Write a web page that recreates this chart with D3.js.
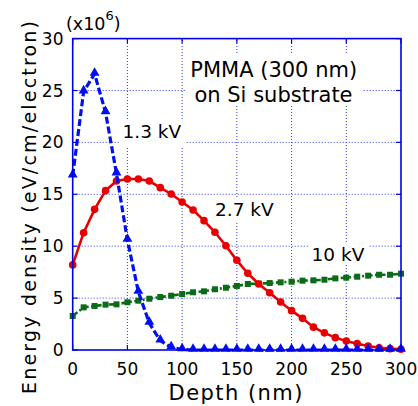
<!DOCTYPE html>
<html>
<head>
<meta charset="utf-8">
<script src="https://cdn.jsdelivr.net/npm/d3@7"></script>
<style>
	body { margin: 0; background: #fff; }
	svg { display: block; font-family: "DejaVu Sans", sans-serif; }
	.gridLine { stroke: #2a3cff; stroke-width: 1; stroke-dasharray: 1,2; fill: none; }
	.frame { stroke: #0000e6; stroke-width: 1.6; fill: none; }
</style>
</head>
<body>
<svg id="chart" width="418" height="406"></svg>
<script>
// depth (nm) and energy density (x10^6 eV/cm/electron)
var aDepth = [0, 10, 20, 30, 40, 50, 60, 70, 80, 90, 100, 110, 120, 130, 140, 150,
	160, 170, 180, 190, 200, 210, 220, 230, 240, 250, 260, 270, 280, 290, 300];
var aEnergy13kV = [16.8, 24.9, 26.6, 22.9, 17.0, 10.6, 5.6, 2.6, 0.9, 0.25, 0.05, 0, 0, 0, 0, 0,
	0, 0, 0, 0, 0, 0, 0, 0, 0, 0, 0, 0, 0, 0, 0];
var aEnergy27kV = [8.2, 11.3, 13.55, 15.35, 16.28, 16.47, 16.47, 16.28, 15.64, 15.03, 14.26, 13.49,
	12.46, 11.34, 10.05, 8.64, 7.39, 6.36, 5.52, 4.62, 3.79, 3.05, 2.2, 1.65, 1.19, 0.87, 0.61,
	0.39, 0.22, 0.13, 0.07];
var aEnergy10kV = [3.28, 4.11, 4.24, 4.37, 4.4, 4.6, 4.75, 4.94, 5.1, 5.23, 5.39, 5.56, 5.65, 5.85,
	6.0, 6.17, 6.36, 6.4, 6.45, 6.52, 6.58, 6.68, 6.71, 6.77, 6.9, 6.97, 7.06, 7.16, 7.25, 7.25, 7.35];
var aXTicks = [0, 50, 100, 150, 200, 250, 300];
var aYTicks = [0, 5, 10, 15, 20, 25, 30];

(function () {
	var $svg = d3.select("#chart"),
		x = d3.scaleLinear().domain([0, 300]).range([72.7, 401]),
		y = d3.scaleLinear().domain([0, 30]).range([350, 38.6]),
		iTick = 5;

	// grid
	$svg.append("g").selectAll("line").data(aXTicks.slice(1, -1)).enter().append("line")
		.attr("class", "gridLine")
		.attr("x1", function (d) { return x(d); }).attr("x2", function (d) { return x(d); })
		.attr("y1", y(0)).attr("y2", y(30));
	$svg.append("g").selectAll("line").data(aYTicks.slice(1, -1)).enter().append("line")
		.attr("class", "gridLine")
		.attr("y1", function (d) { return y(d); }).attr("y2", function (d) { return y(d); })
		.attr("x1", x(0)).attr("x2", x(300));

	// inner labels sit on white boxes that hide the grid
	var aLabels = [
		{text: "1.3 kV", x: 122.5, y: 138.3, size: 18.5, box: [120, 121, 65, 27]},
		{text: "2.7 kV", x: 215, y: 215.7, size: 18.5, box: [212, 198, 67, 23]},
		{text: "10 kV", x: 311.5, y: 261, size: 18.5, box: [308, 244, 60, 21]}
	];
	aLabels.forEach(function (o) {
		$svg.append("rect").attr("x", o.box[0]).attr("y", o.box[1])
			.attr("width", o.box[2]).attr("height", o.box[3]).attr("fill", "#fff");
		$svg.append("text").attr("x", o.x).attr("y", o.y)
			.attr("font-size", o.size).text(o.text);
	});
	$svg.append("rect").attr("x", 185).attr("y", 55).attr("width", 177).attr("height", 50)
		.attr("fill", "#fff");
	$svg.append("text").attr("x", 273.7).attr("y", 76.7).attr("text-anchor", "middle")
		.attr("font-size", 21).text("PMMA (300 nm)");
	$svg.append("text").attr("x", 273.5).attr("y", 101.5).attr("text-anchor", "middle")
		.attr("font-size", 21).text("on Si substrate");

	// series
	var fnLine = function (aVals) {
		return d3.line().x(function (d, i) { return x(aDepth[i]); })
			.y(function (d) { return y(d); })(aVals);
	};

	$svg.append("path").attr("d", fnLine(aEnergy10kV)).attr("fill", "none")
		.attr("stroke", "#0b6b16").attr("stroke-width", 2.6).attr("stroke-dasharray", "6,2.5,2,2.5");
	$svg.append("g").selectAll("rect").data(aEnergy10kV).enter().append("rect")
		.attr("x", function (d, i) { return x(aDepth[i]) - 3; })
		.attr("y", function (d) { return y(d) - 3; })
		.attr("width", 6).attr("height", 6).attr("fill", "#0b6b16");

	$svg.append("path").attr("d", fnLine(aEnergy27kV)).attr("fill", "none")
		.attr("stroke", "#e80000").attr("stroke-width", 2.6);
	$svg.append("g").selectAll("circle").data(aEnergy27kV).enter().append("circle")
		.attr("cx", function (d, i) { return x(aDepth[i]); })
		.attr("cy", function (d) { return y(d); })
		.attr("r", 3.8).attr("fill", "#e80000");

	$svg.append("path").attr("d", fnLine(aEnergy13kV)).attr("fill", "none")
		.attr("stroke", "#0010f0").attr("stroke-width", 3.2).attr("stroke-dasharray", "7,3");
	$svg.append("g").selectAll("path").data(aEnergy13kV).enter().append("path")
		.attr("d", d3.symbol().type(d3.symbolTriangle).size(42))
		.attr("fill", "#0010f0")
		.attr("transform", function (d, i) {
			return "translate(" + x(aDepth[i]) + "," + (y(d) - 1) + ")";
		});

	// frame with inward ticks
	$svg.append("rect").attr("class", "frame")
		.attr("x", x(0)).attr("y", y(30)).attr("width", x(300) - x(0)).attr("height", y(0) - y(30));
	var $ticks = $svg.append("g").attr("stroke", "#0000e6").attr("stroke-width", 1.2);
	aXTicks.forEach(function (d) {
		$ticks.append("line").attr("x1", x(d)).attr("x2", x(d)).attr("y1", y(0)).attr("y2", y(0) - iTick);
		$ticks.append("line").attr("x1", x(d)).attr("x2", x(d)).attr("y1", y(30)).attr("y2", y(30) + iTick);
	});
	aYTicks.forEach(function (d) {
		$ticks.append("line").attr("y1", y(d)).attr("y2", y(d)).attr("x1", x(0)).attr("x2", x(0) + iTick);
		$ticks.append("line").attr("y1", y(d)).attr("y2", y(d)).attr("x1", x(300)).attr("x2", x(300) - iTick);
	});

	// tick labels
	$svg.append("g").selectAll("text").data(aXTicks).enter().append("text")
		.attr("x", function (d) { return x(d); }).attr("y", 374.5)
		.attr("text-anchor", "middle").attr("font-size", 17).text(function (d) { return d; });
	$svg.append("g").selectAll("text").data(aYTicks).enter().append("text")
		.attr("x", 63.5).attr("y", function (d) { return y(d) + 6; })
		.attr("text-anchor", "end").attr("font-size", 17).text(function (d) { return d; });

	var $exp = $svg.append("text").attr("x", 66).attr("y", 30).attr("font-size", 17.5);
	$exp.append("tspan").text("(x10");
	$exp.append("tspan").attr("font-size", 13).attr("dy", -10).text("6");
	$exp.append("tspan").attr("dy", 10).text(")");

	// axis titles
	$svg.append("text").attr("x", 235.5).attr("y", 400).attr("text-anchor", "middle")
		.attr("font-size", 21).attr("textLength", 134).attr("lengthAdjust", "spacing")
		.text("Depth  (nm)");
	$svg.append("text").attr("transform", "translate(36,394) rotate(-90)")
		.attr("font-size", 19).attr("textLength", 373).attr("lengthAdjust", "spacing")
		.text("Energy density  (eV/cm/electron)");
})();
</script>
</body>
</html>
